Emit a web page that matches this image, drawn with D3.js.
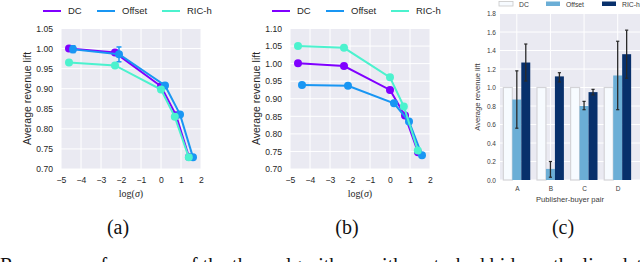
<!DOCTYPE html>
<html><head><meta charset="utf-8">
<script src="https://cdn.jsdelivr.net/npm/d3@7"></script>
<style>
body{margin:0;background:#fff}
svg{display:block}
text{font-family:"Liberation Sans",Arial,sans-serif}
</style>
</head><body>
<svg id="chart" width="640" height="262"></svg>
<script>
// ---------- data ----------
const seriesNames = ["DC", "Offset", "RIC-h"];
const lineColors = ["#8000ff", "#1996f3", "#4cf2ce"];
const xTicksLine = [-5, -4, -3, -2, -1, 0, 1, 2];
const yTicksA = [0.70, 0.75, 0.80, 0.85, 0.90, 0.95, 1.00, 1.05];
const yTicksB = [0.70, 0.75, 0.80, 0.85, 0.90, 0.95, 1.00, 1.05, 1.10];

const sigmaDC = [-4.6, -2.3, 0.0, 0.75, 1.4];
const sigmaOffset = [-4.4, -2.1, 0.2, 0.95, 1.6];
const sigmaRIC = [-4.6, -2.3, 0.0, 0.69, 1.39];

// panel (a)
const aDC = [1.000, 0.990, 0.906, 0.834, 0.730];
const aOffset = [0.998, 0.986, 0.908, 0.836, 0.729];
const aOffsetLo = [0.990, 0.967, 0.904, 0.832, 0.726];
const aOffsetHi = [1.007, 1.004, 0.912, 0.840, 0.732];
const aRIC = [0.965, 0.958, 0.898, 0.830, 0.729];

// panel (b)
const bDC = [1.001, 0.993, 0.925, 0.852, 0.748];
const bOffset = [0.939, 0.937, 0.887, 0.835, 0.739];
const bRIC = [1.050, 1.045, 0.961, 0.878, 0.753];

// panel (c)
const pairs = ["A", "B", "C", "D"];
const barColors = ["#f7fbff", "#6baed6", "#08306b"];
const yTicksC = [0.0, 0.2, 0.4, 0.6, 0.8, 1.0, 1.2, 1.4, 1.6, 1.8];
const cDC = [1.0, 1.0, 1.0, 1.0];
const cOffset = [0.87, 0.12, 0.80, 1.13];
const cOffsetLo = [0.56, 0.03, 0.76, 0.76];
const cOffsetHi = [1.18, 0.20, 0.85, 1.50];
const cRIC = [1.27, 1.12, 0.95, 1.36];
const cRICLo = [1.07, 1.06, 0.92, 1.10];
const cRICHi = [1.47, 1.16, 0.98, 1.62];

const panelLabels = ["(a)", "(b)", "(c)"];
const yLabel = "Average revenue lift";
const xLabelC = "Publisher-buyer pair";
const caption = "Revenue performance of the three algorithms with perturbed bids on the live dataset. (b) Mean";

// ---------- drawing ----------
const svg = d3.select("#chart");
svg.append("rect").attr("width", 640).attr("height", 262).attr("fill", "#fff");
const BG = "#eaeaf2", TXT = "#262626";
const minus = d => (d < 0 ? "\u2212" + Math.abs(d) : String(d));

function linePanel(x0, yMax, yTicks, series) {
  const g = svg.append("g");
  const x = d3.scaleLinear().domain([-5, 2]).range([x0, x0 + 140]);
  const y = d3.scaleLinear().domain([0.70, yMax]).range([169, 28.5]);
  g.append("rect").attr("x", x0).attr("y", 28.5).attr("width", 140).attr("height", 140.5).attr("fill", BG);
  g.selectAll(".gx").data(xTicksLine).join("line")
    .attr("x1", d => x(d)).attr("x2", d => x(d)).attr("y1", 28.5).attr("y2", 169)
    .attr("stroke", "#fff").attr("stroke-width", 1);
  g.selectAll(".gy").data(yTicks).join("line")
    .attr("x1", x0).attr("x2", x0 + 140).attr("y1", d => y(d)).attr("y2", d => y(d))
    .attr("stroke", "#fff").attr("stroke-width", 1);

  const ay = g.append("g").attr("transform", `translate(${x0},0)`)
    .call(d3.axisLeft(y).tickValues(yTicks).tickFormat(d3.format(".2f")).tickSize(0).tickPadding(8));
  const ax = g.append("g").attr("transform", `translate(0,169)`)
    .call(d3.axisBottom(x).tickValues(xTicksLine).tickFormat(minus).tickSize(0).tickPadding(8));
  [ay, ax].forEach(a => {
    a.select(".domain").remove();
    a.selectAll("text").attr("font-size", 8.6).attr("fill", TXT)
      .attr("font-family", '"Liberation Sans",Arial,sans-serif');
  });

  g.append("text").attr("transform", `translate(${x0 - 30},98.5) rotate(-90)`)
    .attr("text-anchor", "middle").attr("font-size", 10.5).attr("fill", TXT).text(yLabel);

  const xl = g.append("text").attr("x", x0 + 70).attr("y", 197).attr("text-anchor", "middle")
    .attr("font-size", 10).attr("fill", TXT).style("font-family", '"Liberation Serif","Times New Roman",serif');
  xl.append("tspan").text("log(");
  xl.append("tspan").attr("font-style", "italic").text("\u03c3");
  xl.append("tspan").text(")");

  // legend
  const legX = [x0 - 18, x0 + 36, x0 + 101];
  seriesNames.forEach((n, i) => {
    g.append("line").attr("x1", legX[i]).attr("x2", legX[i] + 18).attr("y1", 11).attr("y2", 11)
      .attr("stroke", lineColors[i]).attr("stroke-width", 2);
    g.append("text").attr("x", legX[i] + 25).attr("y", 14.3).attr("font-size", 9.5)
      .attr("fill", TXT).text(n);
  });

  const line = d3.line().x(d => x(d[0])).y(d => y(d[1]));
  series.forEach((s, i) => {
    const pts = s.xs.map((v, k) => [v, s.ys[k]]);
    g.append("path").attr("d", line(pts)).attr("fill", "none")
      .attr("stroke", lineColors[i]).attr("stroke-width", 2);
    if (s.lo) {
      s.xs.forEach((v, k) => {
        g.append("line").attr("x1", x(v)).attr("x2", x(v)).attr("y1", y(s.lo[k])).attr("y2", y(s.hi[k]))
          .attr("stroke", lineColors[i]).attr("stroke-width", 1.5);
        [s.lo[k], s.hi[k]].forEach(e => g.append("line").attr("x1", x(v) - 2.5).attr("x2", x(v) + 2.5)
          .attr("y1", y(e)).attr("y2", y(e)).attr("stroke", lineColors[i]).attr("stroke-width", 1.5));
      });
    }
    g.selectAll(null).data(pts).join("circle").attr("cx", d => x(d[0])).attr("cy", d => y(d[1]))
      .attr("r", 4).attr("fill", lineColors[i]);
  });
}

linePanel(61, 1.05, yTicksA, [
  { xs: sigmaDC, ys: aDC },
  { xs: sigmaOffset, ys: aOffset, lo: aOffsetLo, hi: aOffsetHi },
  { xs: sigmaRIC, ys: aRIC }
]);
linePanel(290, 1.10, yTicksB, [
  { xs: sigmaDC, ys: bDC },
  { xs: sigmaOffset, ys: bOffset },
  { xs: sigmaRIC, ys: bRIC }
]);

// ---------- panel (c) ----------
(function () {
  const g = svg.append("g");
  const left = 500, right = 640, top = 13.5, bottom = 180;
  const x = d3.scaleLinear().domain([-0.5, 3.5]).range([left, 634.5]);
  const y = d3.scaleLinear().domain([0, 1.8]).range([bottom, top]);
  const CT = "#3a3a3a";
  g.append("rect").attr("x", left).attr("y", top).attr("width", right - left).attr("height", bottom - top).attr("fill", BG);
  g.selectAll(null).data(yTicksC).join("line").attr("x1", left).attr("x2", right)
    .attr("y1", d => y(d)).attr("y2", d => y(d)).attr("stroke", "#fff").attr("stroke-width", 1);
  g.selectAll(null).data(pairs).join("line").attr("x1", (d, i) => x(i)).attr("x2", (d, i) => x(i))
    .attr("y1", top).attr("y2", bottom).attr("stroke", "#fff").attr("stroke-width", 1);

  const bw = 0.8 / 3;
  const vals = [cDC, cOffset, cRIC];
  const los = [null, cOffsetLo, cRICLo];
  const his = [null, cOffsetHi, cRICHi];
  vals.forEach((arr, s) => {
    arr.forEach((v, i) => {
      const cx = i + (s - 1) * bw;
      const r = g.append("rect").attr("x", x(cx - bw / 2)).attr("width", x(cx + bw / 2) - x(cx - bw / 2))
        .attr("y", y(v)).attr("height", y(0) - y(v)).attr("fill", barColors[s]);
      if (s === 0) r.attr("stroke", "#d4d4d8").attr("stroke-width", 1.2);
    });
  });
  vals.forEach((arr, s) => {
    if (!los[s]) return;
    arr.forEach((v, i) => {
      const px = x(i + (s - 1) * bw);
      g.append("line").attr("x1", px).attr("x2", px).attr("y1", y(los[s][i])).attr("y2", y(his[s][i]))
        .attr("stroke", "#2a2a2a").attr("stroke-width", 1.3);
      [los[s][i], his[s][i]].forEach(e => g.append("line").attr("x1", px - 1.6).attr("x2", px + 1.6)
        .attr("y1", y(e)).attr("y2", y(e)).attr("stroke", "#2a2a2a").attr("stroke-width", 1.2));
    });
  });

  const ay = g.append("g").attr("transform", `translate(${left},0)`)
    .call(d3.axisLeft(y).tickValues(yTicksC).tickFormat(d3.format(".1f")).tickSize(0).tickPadding(4));
  const ax = g.append("g").attr("transform", `translate(0,${bottom})`)
    .call(d3.axisBottom(x).tickValues([0, 1, 2, 3]).tickFormat(i => pairs[i]).tickSize(0).tickPadding(6));
  [ay, ax].forEach(a => {
    a.select(".domain").remove();
    a.selectAll("text").attr("font-size", 6.5).attr("fill", CT)
      .attr("font-family", '"Liberation Sans",Arial,sans-serif');
  });
  g.append("text").attr("transform", `translate(480,97) rotate(-90)`).attr("text-anchor", "middle")
    .attr("font-size", 7.6).attr("fill", CT).text(yLabel);
  g.append("text").attr("x", 570).attr("y", 202).attr("text-anchor", "middle")
    .attr("font-size", 7.6).attr("fill", CT).text(xLabelC);

  const sw = [499, 546, 602];
  seriesNames.forEach((n, s) => {
    g.append("rect").attr("x", sw[s]).attr("y", 1.5).attr("width", 14).attr("height", 4.5)
      .attr("fill", barColors[s]).attr("stroke", s === 0 ? "#c8c8c8" : "none").attr("stroke-width", 0.8);
    g.append("text").attr("x", sw[s] + 20).attr("y", 6.5).attr("font-size", 6.8).attr("fill", CT).text(n);
  });
})();

// ---------- panel labels and caption ----------
const labX = [118, 347, 563];
panelLabels.forEach((t, i) => {
  svg.append("text").attr("x", labX[i]).attr("y", 233.5).attr("text-anchor", "middle")
    .attr("font-size", 20).attr("fill", "#111")
    .style("font-family", '"Liberation Serif","Times New Roman",serif').text(t);
});
svg.append("text").attr("x", 0).attr("y", 272).attr("font-size", 20).attr("fill", "#111")
  .style("font-family", '"Liberation Serif","Times New Roman",serif').text(caption);
</script>
</body></html>
